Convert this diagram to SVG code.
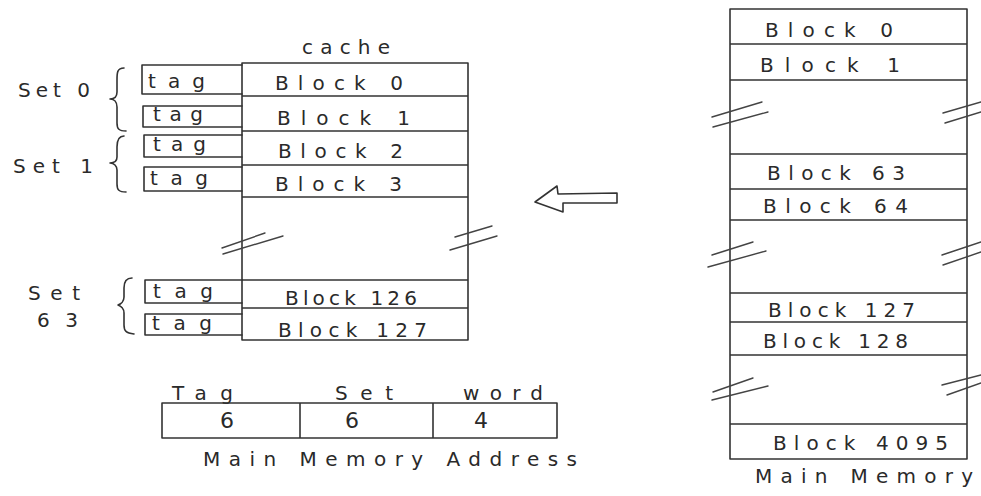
<svg xmlns="http://www.w3.org/2000/svg" width="981" height="496" viewBox="0 0 981 496">
<style>
.ln{stroke:#333;stroke-width:1.6;fill:none;stroke-linecap:round;stroke-linejoin:round}
.br{stroke:#444;stroke-width:1.4;fill:none;stroke-linecap:round}
.t{font-family:"DejaVu Sans","Liberation Sans",Arial,sans-serif;font-size:20px;fill:#2a2a2a}
</style>
<rect width="981" height="496" fill="#fff"/>

<g id="cache">
  <text class="t" x="302" y="54" textLength="88" lengthAdjust="spacing">cache</text>
  <path class="ln" d="M242,63 H468 V197 M242,63 V340 H468 V280 M242,96 H468 M242,131 H468 M242,165 H468 M242,197 H468 M468,197 V280 M242,280 H468 M242,308 H468"/>
  <g class="br">
    <path d="M222,248 L265,233 M223,254 L283,236"/>
    <path d="M455,237 L492,226 M450,250 L497,236"/>
  </g>
  <text class="t" x="275" y="90" textLength="128" lengthAdjust="spacing">Block 0</text>
  <text class="t" x="277" y="125" textLength="133" lengthAdjust="spacing">Block 1</text>
  <text class="t" x="278" y="158" textLength="125" lengthAdjust="spacing">Block 2</text>
  <text class="t" x="275" y="191" textLength="127" lengthAdjust="spacing">Block 3</text>
  <text class="t" x="285" y="305" textLength="132" lengthAdjust="spacing">Block 126</text>
  <text class="t" x="278" y="337" textLength="149" lengthAdjust="spacing">Block 127</text>
</g>

<g id="tags">
  <path class="ln" d="M242,65 H142 V94 H242 M242,106 H143 V127 H242 M242,135 H144 V157 H242 M242,167 H144 V191 H242 M242,280 H145 V303 H242 M242,314 H145 V335 H242"/>
  <text class="t" x="148" y="88" textLength="57" lengthAdjust="spacing">tag</text>
  <text class="t" x="153" y="121" textLength="50" lengthAdjust="spacing">tag</text>
  <text class="t" x="153" y="151" textLength="53" lengthAdjust="spacing">tag</text>
  <text class="t" x="150" y="185" textLength="58" lengthAdjust="spacing">tag</text>
  <text class="t" x="153" y="298" textLength="60" lengthAdjust="spacing">tag</text>
  <text class="t" x="152" y="330" textLength="60" lengthAdjust="spacing">tag</text>
</g>

<g id="set0">
  <path class="ln" d="M124,68 C117,68 117,73 117,80 L117,92 C117,97 114,99 110,99 C114,99 117,102 117,107 L117,123 C117,129 119,131 126,131"/>
  <text class="t" x="18" y="97" textLength="72" lengthAdjust="spacing">Set 0</text>
</g>
<g id="set1">
  <path class="ln" d="M124,136 C118,136 117,141 117,147 L117,157 C117,161 114,163 110,163 C114,163 117,166 117,170 L117,184 C117,190 119,192 126,192"/>
  <text class="t" x="13" y="173" textLength="80" lengthAdjust="spacing">Set 1</text>
</g>
<g id="set63">
  <path class="ln" d="M132,278 C125,278 124,283 124,288 L124,297 C124,301 121,304 118,305 C121,306 124,309 124,313 L124,325 C124,331 126,333 134,334"/>
  <text class="t" x="28" y="300" textLength="52" lengthAdjust="spacing">Set</text>
  <text class="t" x="37" y="327" textLength="41" lengthAdjust="spacing">63</text>
</g>

<g id="connectors">
  <path class="ln" d="M535,202 L557,186 L558,194 L617,193 L617,203 L563,203 L563,212 Z"/>
</g>

<g id="main-memory">
  <path class="ln" d="M730,9 H967 V459 H730 Z M730,44 H967 M730,80 H967 M730,154 H967 M730,189 H967 M730,220 H967 M730,293 H967 M730,322 H967 M730,355 H967 M730,424 H967"/>
  <g class="br">
    <path d="M712,117 L762,102 M713,127 L768,112 M943,113 L981,102 M945,123 L981,112"/>
    <path d="M712,255 L753,242 M708,267 L766,251 M942,255 L981,242 M943,265 L981,252"/>
    <path d="M713,392 L753,378 M712,400 L768,386 M942,385 L981,375 M947,395 L981,383"/>
  </g>
  <text class="t" x="765" y="37" textLength="128" lengthAdjust="spacing">Block 0</text>
  <text class="t" x="760" y="72" textLength="140" lengthAdjust="spacing">Block 1</text>
  <text class="t" x="767" y="180" textLength="138" lengthAdjust="spacing">Block 63</text>
  <text class="t" x="763" y="213" textLength="145" lengthAdjust="spacing">Block 64</text>
  <text class="t" x="768" y="317" textLength="147" lengthAdjust="spacing">Block 127</text>
  <text class="t" x="763" y="348" textLength="145" lengthAdjust="spacing">Block 128</text>
  <text class="t" x="773" y="450" textLength="175" lengthAdjust="spacing">Block 4095</text>
  <text class="t" x="755" y="483" textLength="218" lengthAdjust="spacing">Main Memory</text>
</g>

<g id="address">
  <text class="t" x="172" y="400" textLength="61" lengthAdjust="spacing">Tag</text>
  <text class="t" x="335" y="400" textLength="58" lengthAdjust="spacing">Set</text>
  <text class="t" x="463" y="400" textLength="80" lengthAdjust="spacing">word</text>
  <path class="ln" d="M162,403 H557 V438 H162 Z M300,403 V438 M433,403 V438"/>
  <text class="t" x="227" y="428" text-anchor="middle" style="font-size:22px">6</text>
  <text class="t" x="352" y="428" text-anchor="middle" style="font-size:22px">6</text>
  <text class="t" x="481" y="428" text-anchor="middle" style="font-size:22px">4</text>
  <text class="t" x="203" y="466" textLength="374" lengthAdjust="spacing">Main Memory Address</text>
</g>
</svg>
